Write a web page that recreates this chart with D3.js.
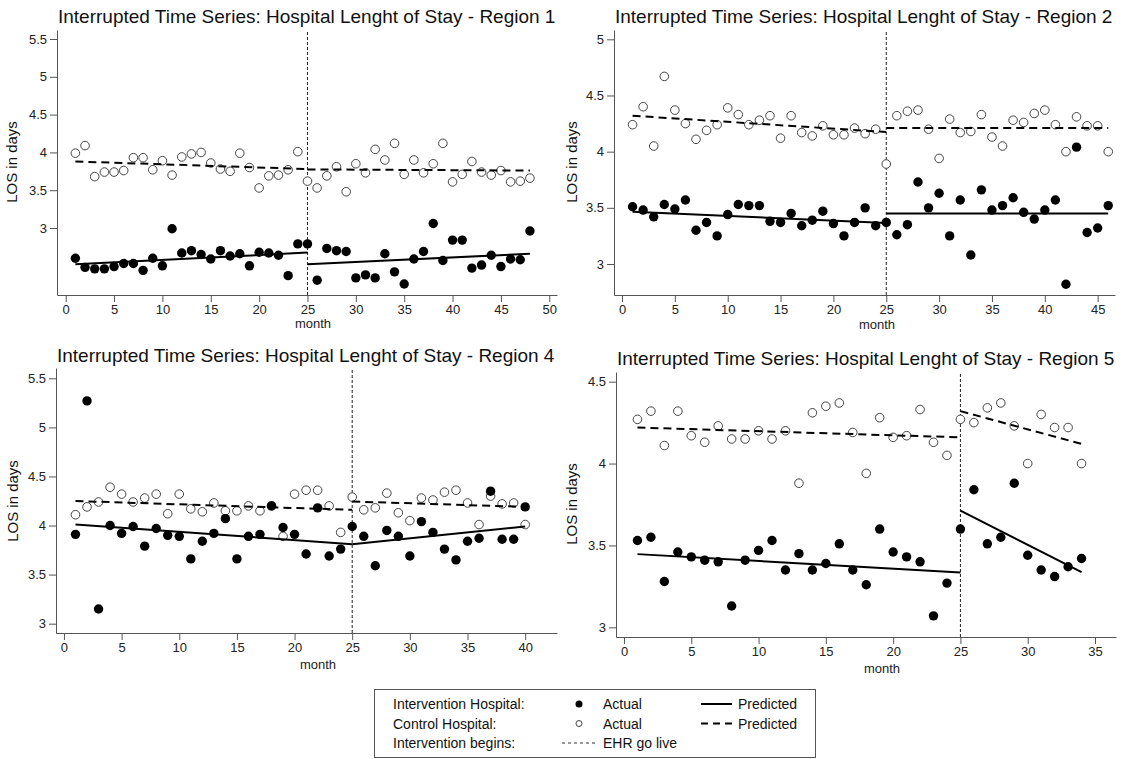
<!DOCTYPE html>
<html>
<head>
<meta charset="utf-8">
<script src="https://cdn.jsdelivr.net/npm/d3@7"></script>
<style>
  html, body { margin: 0; padding: 0; background: #fff; }
  svg { display: block; font-family: "Liberation Sans", Arial, sans-serif; }
  .axis .domain, .axis line { stroke: #555; stroke-width: 1; }
  .axis text { fill: #222; font-size: 13px; font-family: "Liberation Sans", Arial, sans-serif; }
</style>
</head>
<body>
<svg id="chart" width="1123" height="759"></svg>
<script>
'use strict';

// Monthly LOS values (month 1..n)
const region1Intervention = [2.60, 2.48, 2.46, 2.46, 2.49, 2.53, 2.53, 2.44, 2.60, 2.50,
    2.99, 2.67, 2.70, 2.65, 2.59, 2.70, 2.63, 2.66, 2.50, 2.68,
    2.67, 2.64, 2.37, 2.79, 2.79, 2.31, 2.73, 2.70, 2.69, 2.34,
    2.38, 2.34, 2.66, 2.42, 2.26, 2.59, 2.69, 3.06, 2.57, 2.84,
    2.84, 2.47, 2.51, 2.64, 2.49, 2.59, 2.58, 2.96];
const region1Control = [3.99, 4.09, 3.68, 3.74, 3.74, 3.76, 3.93, 3.93, 3.77, 3.89,
    3.70, 3.94, 3.98, 4.00, 3.86, 3.78, 3.75, 3.99, 3.80, 3.53,
    3.69, 3.70, 3.77, 4.01, 3.62, 3.53, 3.69, 3.81, 3.48, 3.85,
    3.73, 4.04, 3.90, 4.12, 3.71, 3.90, 3.73, 3.85, 4.12, 3.61,
    3.71, 3.88, 3.74, 3.70, 3.76, 3.61, 3.62, 3.66];
const region1InterventionPred = [[[1, 2.52], [25, 2.675]], [[25, 2.52], [48, 2.66]]];
const region1ControlPred = [[[1, 3.88], [25, 3.78]], [[25, 3.775], [48, 3.76]]];

const region2Intervention = [3.51, 3.48, 3.42, 3.53, 3.49, 3.57, 3.30, 3.37, 3.25, 3.44,
    3.53, 3.52, 3.52, 3.38, 3.37, 3.45, 3.34, 3.39, 3.47, 3.36,
    3.25, 3.37, 3.50, 3.34, 3.37, 3.26, 3.35, 3.73, 3.50, 3.63,
    3.25, 3.57, 3.08, 3.66, 3.48, 3.52, 3.59, 3.46, 3.40, 3.48,
    3.57, 2.82, 4.04, 3.28, 3.32, 3.52];
const region2Control = [4.24, 4.40, 4.05, 4.67, 4.37, 4.25, 4.11, 4.19, 4.24, 4.39,
    4.33, 4.24, 4.28, 4.32, 4.12, 4.32, 4.17, 4.14, 4.23, 4.15,
    4.15, 4.21, 4.16, 4.20, 3.89, 4.32, 4.36, 4.37, 4.20, 3.94,
    4.29, 4.17, 4.18, 4.33, 4.13, 4.05, 4.28, 4.26, 4.34, 4.37,
    4.24, 4.00, 4.31, 4.23, 4.23, 4.00];
const region2InterventionPred = [[[1, 3.465], [25, 3.365]], [[25, 3.45], [46, 3.45]]];
const region2ControlPred = [[[1, 4.32], [25, 4.175]], [[25, 4.21], [46, 4.21]]];

const region4Intervention = [3.91, 5.27, 3.15, 4.00, 3.92, 3.99, 3.79, 3.97, 3.90, 3.89,
    3.66, 3.84, 3.92, 4.07, 3.66, 3.89, 3.91, 4.20, 3.98, 3.91,
    3.71, 4.18, 3.69, 3.76, 3.99, 3.89, 3.59, 3.95, 3.89, 3.69,
    4.04, 3.93, 3.76, 3.65, 3.84, 3.87, 4.35, 3.86, 3.86, 4.19];
const region4Control = [4.11, 4.19, 4.24, 4.39, 4.32, 4.24, 4.28, 4.32, 4.12, 4.32,
    4.17, 4.14, 4.23, 4.15, 4.15, 4.20, 4.15, 4.20, 3.89, 4.32,
    4.36, 4.36, 4.20, 3.93, 4.29, 4.16, 4.18, 4.33, 4.13, 4.05,
    4.28, 4.26, 4.34, 4.36, 4.23, 4.01, 4.30, 4.22, 4.23, 4.01];
const region4InterventionPred = [[[1, 4.01], [25, 3.81]], [[25, 3.81], [40, 3.99]]];
const region4ControlPred = [[[1, 4.25], [25, 4.16]], [[25, 4.245], [40, 4.19]]];

const region5Intervention = [3.53, 3.55, 3.28, 3.46, 3.43, 3.41, 3.40, 3.13, 3.41, 3.47,
    3.53, 3.35, 3.45, 3.35, 3.39, 3.51, 3.35, 3.26, 3.60, 3.46,
    3.43, 3.40, 3.07, 3.27, 3.60, 3.84, 3.51, 3.55, 3.88, 3.44,
    3.35, 3.31, 3.37, 3.42];
const region5Control = [4.27, 4.32, 4.11, 4.32, 4.17, 4.13, 4.23, 4.15, 4.15, 4.20,
    4.15, 4.20, 3.88, 4.31, 4.35, 4.37, 4.19, 3.94, 4.28, 4.16,
    4.17, 4.33, 4.13, 4.05, 4.27, 4.25, 4.34, 4.37, 4.23, 4.00,
    4.30, 4.22, 4.22, 4.00];
const region5InterventionPred = [[[1, 3.447], [25, 3.335]], [[25, 3.713], [34, 3.337]]];
const region5ControlPred = [[[1, 4.22], [25, 4.16]], [[25, 4.32], [34, 4.12]]];

// Tick labels
const region1XTicks = [0, 5, 10, 15, 20, 25, 30, 35, 40, 45, 50];
const region2XTicks = [0, 5, 10, 15, 20, 25, 30, 35, 40, 45];
const region4XTicks = [0, 5, 10, 15, 20, 25, 30, 35, 40];
const region5XTicks = [0, 5, 10, 15, 20, 25, 30, 35];
const region1YTicks = [3, 3.5, 4, 4.5, 5, 5.5];
const region2YTicks = [3, 3.5, 4, 4.5, 5];
const region4YTicks = [3, 3.5, 4, 4.5, 5, 5.5];
const region5YTicks = [3, 3.5, 4, 4.5];

const goLiveMonth = 25;
const titleText = 'Interrupted Time Series: Hospital Lenght of Stay - Region ';

const panels = [
    { region: 1, intervention: region1Intervention, control: region1Control,
      interventionPred: region1InterventionPred, controlPred: region1ControlPred,
      xTicks: region1XTicks, yTicks: region1YTicks,
      box: { x0: 57, x1: 557, y0: 30, y1: 295 }, xDomain: [-0.9, 50.8], yDomain: [2.114, 5.619],
      title: [58, 23], month: [313, 328], ylab: [17, 162] },
    { region: 2, intervention: region2Intervention, control: region2Control,
      interventionPred: region2InterventionPred, controlPred: region2ControlPred,
      xTicks: region2XTicks, yTicks: region2YTicks,
      box: { x0: 614, x1: 1115, y0: 30, y1: 295 }, xDomain: [-0.757, 46.64], yDomain: [2.724, 5.083],
      title: [615, 23], month: [877, 329], ylab: [577, 162] },
    { region: 4, intervention: region4Intervention, control: region4Control,
      interventionPred: region4InterventionPred, controlPred: region4ControlPred,
      xTicks: region4XTicks, yTicks: region4YTicks,
      box: { x0: 56, x1: 557, y0: 368, y1: 633 }, xDomain: [-0.69, 42.76], yDomain: [2.905, 5.605],
      title: [57, 362], month: [318, 669], ylab: [18, 501] },
    { region: 5, intervention: region5Intervention, control: region5Control,
      interventionPred: region5InterventionPred, controlPred: region5ControlPred,
      xTicks: region5XTicks, yTicks: region5YTicks,
      box: { x0: 616, x1: 1116, y0: 372, y1: 637 }, xDomain: [-0.594, 36.56], yDomain: [2.941, 4.559],
      title: [617, 365], month: [882, 673], ylab: [577, 504] }
];

const svg = d3.select('#chart');

function drawPanel(p) {
    const g = svg.append('g');
    const x = d3.scaleLinear().domain(p.xDomain).range([p.box.x0, p.box.x1]);
    const y = d3.scaleLinear().domain(p.yDomain).range([p.box.y1, p.box.y0]);

    g.append('text')
        .attr('x', p.title[0]).attr('y', p.title[1])
        .attr('font-size', 19).attr('fill', '#111')
        .text(titleText + p.region);

    g.append('g').attr('class', 'axis')
        .attr('transform', `translate(${p.box.x0},0)`)
        .call(d3.axisLeft(y).tickValues(p.yTicks).tickSize(7).tickSizeOuter(0).tickPadding(3).tickFormat(d => d));

    g.append('g').attr('class', 'axis')
        .attr('transform', `translate(0,${p.box.y1})`)
        .call(d3.axisBottom(x).tickValues(p.xTicks).tickSize(7).tickSizeOuter(0).tickPadding(3).tickFormat(d => d));

    g.append('text')
        .attr('x', p.month[0]).attr('y', p.month[1])
        .attr('text-anchor', 'middle').attr('font-size', 13).attr('fill', '#222')
        .text('month');

    g.append('text')
        .attr('transform', `translate(${p.ylab[0]},${p.ylab[1]}) rotate(-90)`)
        .attr('text-anchor', 'middle').attr('font-size', 15).attr('fill', '#111')
        .text('LOS in days');

    // EHR go live
    g.append('line')
        .attr('x1', x(goLiveMonth)).attr('x2', x(goLiveMonth))
        .attr('y1', p.box.y1).attr('y2', p.box.y0)
        .attr('stroke', '#222').attr('stroke-width', 1).attr('stroke-dasharray', '3,2');

    g.selectAll('circle.ctrl')
        .data(p.control)
        .enter().append('circle')
        .attr('class', 'ctrl')
        .attr('cx', (d, i) => x(i + 1)).attr('cy', d => y(d))
        .attr('r', 4.3)
        .attr('fill', '#fff').attr('stroke', '#444').attr('stroke-width', 1);

    g.selectAll('circle.intv')
        .data(p.intervention)
        .enter().append('circle')
        .attr('class', 'intv')
        .attr('cx', (d, i) => x(i + 1)).attr('cy', d => y(d))
        .attr('r', 4.7)
        .attr('fill', '#000');

    const line = d3.line().x(d => x(d[0])).y(d => y(d[1]));

    g.selectAll('path.ipred')
        .data(p.interventionPred)
        .enter().append('path')
        .attr('class', 'ipred')
        .attr('d', line)
        .attr('fill', 'none').attr('stroke', '#000').attr('stroke-width', 2);

    g.selectAll('path.cpred')
        .data(p.controlPred)
        .enter().append('path')
        .attr('class', 'cpred')
        .attr('d', line)
        .attr('fill', 'none').attr('stroke', '#000').attr('stroke-width', 2)
        .attr('stroke-dasharray', '8,5');
}

panels.forEach(drawPanel);

// Legend
const legend = svg.append('g').attr('font-size', 14).attr('fill', '#111');
legend.append('rect')
    .attr('x', 374.5).attr('y', 689.5).attr('width', 441).attr('height', 68)
    .attr('fill', '#fff').attr('stroke', '#555').attr('stroke-width', 1);

const legendRows = ['Intervention Hospital:', 'Control Hospital:', 'Intervention begins:'];
const legendRowY = [704, 723.5, 743];
legendRows.forEach((label, i) => {
    legend.append('text').attr('x', 393).attr('y', legendRowY[i] + 5).attr('fill', '#111').text(label);
});
legend.append('circle').attr('cx', 579).attr('cy', legendRowY[0]).attr('r', 3.5).attr('fill', '#000');
legend.append('circle').attr('cx', 579).attr('cy', legendRowY[1]).attr('r', 3)
    .attr('fill', '#fff').attr('stroke', '#444');
legend.append('text').attr('x', 603).attr('y', legendRowY[0] + 5).attr('fill', '#111').text('Actual');
legend.append('text').attr('x', 603).attr('y', legendRowY[1] + 5).attr('fill', '#111').text('Actual');
legend.append('text').attr('x', 603).attr('y', legendRowY[2] + 5).attr('fill', '#111').text('EHR go live');
legend.append('line').attr('x1', 701).attr('x2', 732).attr('y1', legendRowY[0]).attr('y2', legendRowY[0])
    .attr('stroke', '#000').attr('stroke-width', 2);
legend.append('line').attr('x1', 701).attr('x2', 732).attr('y1', legendRowY[1]).attr('y2', legendRowY[1])
    .attr('stroke', '#000').attr('stroke-width', 2).attr('stroke-dasharray', '7,5');
legend.append('line').attr('x1', 562).attr('x2', 598).attr('y1', legendRowY[2]).attr('y2', legendRowY[2])
    .attr('stroke', '#333').attr('stroke-width', 1).attr('stroke-dasharray', '3,3');
legend.append('text').attr('x', 738).attr('y', legendRowY[0] + 5).attr('fill', '#111').text('Predicted');
legend.append('text').attr('x', 738).attr('y', legendRowY[1] + 5).attr('fill', '#111').text('Predicted');
</script>
</body>
</html>
